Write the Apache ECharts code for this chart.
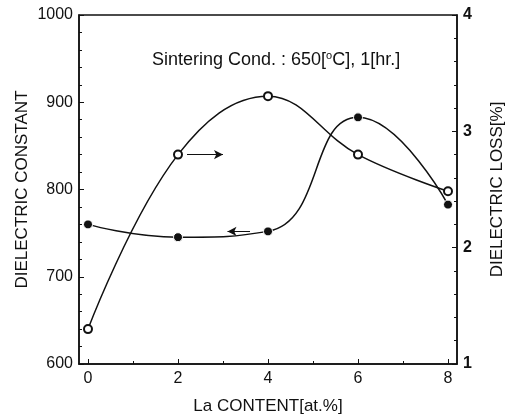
<!DOCTYPE html>
<html><head><meta charset="utf-8">
<script src="https://cdn.jsdelivr.net/npm/echarts@6/dist/echarts.min.js"></script>
<style>html,body{margin:0;padding:0;background:#fff}#c{width:515px;height:416px}</style>
</head><body><div id="c"></div>
<script>
var laContent = [0, 2, 4, 6, 8];
var dielectricConstant = [640, 840, 907, 840, 798];
var dielectricLoss = [2.20, 2.09, 2.14, 3.12, 2.37];
var xMajorTicks = [0, 2, 4, 6, 8];
var xMinorTicks = [1, 3, 5, 7];

var font = 'Liberation Sans, Arial, sans-serif';
var chart = echarts.init(document.getElementById('c'));
function pairs(xs, ys){ return xs.map(function(x,i){ return [x, ys[i]]; }); }

chart.setOption({
  animation: false,
  backgroundColor: '#fff',
  title: {
    text: 'Sintering Cond. : 650[{sup|o}C], 1[hr.]',
    left: 147, top: 45,
    textStyle: { fontFamily: font, fontSize: 18, fontWeight: 'normal', color: '#111',
      rich: { sup: { fontFamily: font, fontSize: 11, verticalAlign: 'top', padding: [0,0,9,0], color: '#111' } } }
  },
  grid: { left: 79, right: 58, top: 15, bottom: 52, outerBoundsMode: 'none', containLabel: false,
    show: true, borderColor: '#111', borderWidth: 1.5, backgroundColor: 'transparent' },
  xAxis: [{
    type: 'value', min: -0.2, max: 8.2,
    name: 'La CONTENT[at.%]', nameLocation: 'middle', nameGap: 34,
    nameTextStyle: { fontFamily: font, fontSize: 17, color: '#111' },
    axisLine: { onZero: false, lineStyle: { color: '#111', width: 1.5 } },
    axisTick: { inside: true, length: 5, customValues: xMajorTicks, lineStyle: { color: '#111' } },
    axisLabel: { customValues: xMajorTicks, fontFamily: font, fontSize: 16, color: '#111', margin: 7 },
    splitLine: { show: false }
  }, {
    type: 'value', min: -0.2, max: 8.2, position: 'bottom',
    axisLine: { show: false, onZero: false },
    axisTick: { inside: true, length: 3, customValues: xMinorTicks, lineStyle: { color: '#111' } },
    axisLabel: { show: false },
    splitLine: { show: false }
  }],
  yAxis: [{
    type: 'value', min: 600, max: 1000, interval: 100,
    name: 'DIELECTRIC CONSTANT', nameLocation: 'middle', nameGap: 48, nameRotate: 90, nameMoveOverlap: false,
    nameTextStyle: { fontFamily: font, fontSize: 17, color: '#111' },
    axisLine: { show: true, onZero: false, lineStyle: { color: '#111', width: 1.5 } },
    axisTick: { show: true, inside: true, length: 5, lineStyle: { color: '#111' } },
    minorTick: { show: true, splitNumber: 5, length: 3, lineStyle: { color: '#111' } },
    axisLabel: { fontFamily: font, fontSize: 16, color: '#111', margin: 6, formatter: function(v){ return String(v); } },
    splitLine: { show: false }
  }, {
    type: 'value', min: 1, max: 4, interval: 1, position: 'right',
    name: 'DIELECTRIC LOSS[%]', nameLocation: 'middle', nameGap: 32, nameRotate: 90,
    nameTextStyle: { fontFamily: font, fontSize: 17, color: '#111' },
    axisLine: { show: true, onZero: false, lineStyle: { color: '#111', width: 1.5 } },
    axisTick: { show: true, inside: true, length: 5, lineStyle: { color: '#111' } },
    minorTick: { show: true, splitNumber: 5, length: 3, lineStyle: { color: '#111' } },
    axisLabel: { fontFamily: font, fontSize: 16, fontWeight: 'bold', color: '#111', margin: 6 },
    splitLine: { show: false }
  }],
  series: [{
    name: 'Dielectric constant', type: 'line', yAxisIndex: 0, smooth: 0.4,
    data: pairs(laContent, dielectricConstant),
    symbol: 'emptyCircle', symbolSize: 8,
    lineStyle: { color: '#111', width: 1.5 },
    itemStyle: { color: '#111', borderColor: '#111', borderWidth: 1.3 },
    markLine: {
      silent: true, symbol: ['none', 'arrow'], symbolSize: [7, 9], label: { show: false },
      lineStyle: { color: '#111', width: 1, type: 'solid' },
      data: [[{ coord: [2.2, 840] }, { coord: [3.0, 840] }]]
    }
  }, {
    name: 'Dielectric loss', type: 'line', yAxisIndex: 1, smooth: 0.5,
    data: pairs(laContent, dielectricLoss),
    symbol: 'circle', symbolSize: 9,
    lineStyle: { color: '#111', width: 1.5 },
    itemStyle: { color: '#111', borderColor: '#fff', borderWidth: 1 },
    markLine: {
      silent: true, symbol: ['none', 'arrow'], symbolSize: [7, 9], label: { show: false },
      lineStyle: { color: '#111', width: 1, type: 'solid' },
      data: [[{ coord: [3.6, 2.14] }, { coord: [3.1, 2.14] }]]
    }
  }]
});
</script></body></html>
